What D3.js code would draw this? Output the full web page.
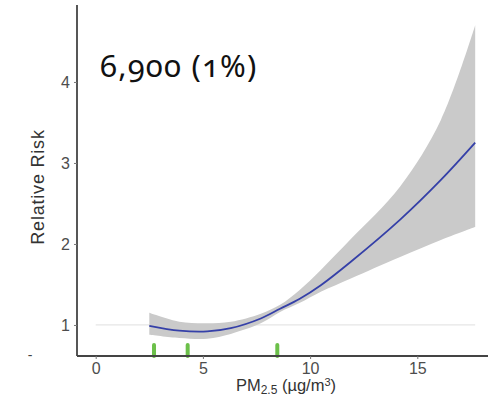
<!DOCTYPE html>
<html>
<head>
<meta charset="utf-8">
<script src="https://cdn.jsdelivr.net/npm/d3@7"></script>
<style>
  html, body { margin: 0; padding: 0; background: #fff; }
  svg { display: block; }
</style>
</head>
<body>
<svg id="chart" width="488" height="407"></svg>
<script>
// Exposure grid (PM2.5, µg/m³) and fitted relative risk with 95% band
const pm = [2.5, 3.9, 5.2, 6.3, 7.7, 8.6, 9.5, 10.5, 11.9, 14.2, 16.1, 17.7];
const rr = [0.99, 0.93, 0.92, 0.96, 1.08, 1.20, 1.32, 1.49, 1.78, 2.30, 2.79, 3.25];
const rrLower = [0.88, 0.84, 0.83, 0.89, 1.02, 1.16, 1.27, 1.41, 1.575, 1.84, 2.05, 2.21];
const rrUpper = [1.15, 1.04, 1.02, 1.04, 1.14, 1.25, 1.43, 1.68, 2.06, 2.71, 3.53, 4.70];
// Observed exposure locations shown as a rug
const rugPm = [2.72, 4.29, 8.47];
const xTicks = [0, 5, 10, 15];
const yTicks = [1, 2, 3, 4];
const refRR = 1;
const headline = "6,900 (1%)";

const svg = d3.select("#chart");
const panel = { left: 77, right: 488, top: 5, bottom: 356 };

const x = d3.scaleLinear().domain([-0.872, 18.297]).range([panel.left, panel.right]);
const y = d3.scaleLinear().domain([0.617, 4.95]).range([panel.bottom, panel.top]);

const rows = pm.map((v, i) => ({ pm: v, rr: rr[i], lo: rrLower[i], hi: rrUpper[i] }));
const smooth = d3.curveCatmullRom.alpha(0.5);

// reference line at RR = 1
svg.append("line")
  .attr("x1", x(0)).attr("x2", x(pm[pm.length - 1]))
  .attr("y1", y(refRR)).attr("y2", y(refRR))
  .attr("stroke", "#e6e6e6").attr("stroke-width", 1.2);

// confidence band
svg.append("path")
  .datum(rows)
  .attr("d", d3.area().curve(smooth)
    .x(d => x(d.pm)).y0(d => y(d.lo)).y1(d => y(d.hi)))
  .attr("fill", "#cacaca");

// fitted curve
svg.append("path")
  .datum(rows)
  .attr("d", d3.line().curve(smooth)
    .x(d => x(d.pm)).y(d => y(d.rr)))
  .attr("fill", "none").attr("stroke", "#3540a8").attr("stroke-width", 1.8);

// rug marks
svg.selectAll("line.rug").data(rugPm).join("line")
  .attr("class", "rug")
  .attr("x1", d => x(d)).attr("x2", d => x(d))
  .attr("y1", panel.bottom - 11).attr("y2", panel.bottom)
  .attr("stroke", "#6cc04a").attr("stroke-width", 4)
  .attr("stroke-linecap", "round");

// axes
const axisColor = "#444";
const tickColor = "#4d4d4d";

const xAxis = svg.append("g").attr("transform", `translate(0,${panel.bottom})`)
  .call(d3.axisBottom(x).tickValues(xTicks).tickSize(3).tickPadding(4).tickFormat(d3.format("d")));
const yAxis = svg.append("g").attr("transform", `translate(${panel.left},0)`)
  .call(d3.axisLeft(y).tickValues(yTicks).tickSize(3).tickPadding(4).tickFormat(d3.format("d")));

[xAxis, yAxis].forEach(g => {
  g.select(".domain").attr("stroke", axisColor).attr("stroke-width", 1.8);
  g.selectAll(".tick line").attr("stroke", "#777").attr("stroke-width", 1);
  g.selectAll(".tick text")
    .attr("fill", tickColor)
    .style("font-family", "'Liberation Sans', Arial, sans-serif")
    .style("font-size", "16px");
});
xAxis.select(".domain").attr("d", `M${panel.left},0H${panel.right}`);
yAxis.select(".domain").attr("d", `M0,${panel.top}V${panel.bottom}`);

// axis titles
svg.append("text")
  .attr("transform", "translate(44,187) rotate(-90)")
  .attr("text-anchor", "middle")
  .attr("fill", "#333")
  .style("font-family", "'Liberation Sans', Arial, sans-serif")
  .style("font-size", "18px")
  .style("letter-spacing", "0.8px")
  .text("Relative Risk");

const xt = svg.append("text")
  .attr("x", 286).attr("y", 391)
  .attr("text-anchor", "middle")
  .attr("fill", "#333")
  .style("font-family", "'Liberation Sans', Arial, sans-serif")
  .style("font-size", "16.5px");
xt.append("tspan").text("PM");
xt.append("tspan").attr("dy", 3).style("font-size", "12px").text("2.5");
xt.append("tspan").attr("dy", -3).text(" (µg/m");
xt.append("tspan").attr("dy", -5).style("font-size", "11px").text("3");
xt.append("tspan").attr("dy", 5).text(")");

// stray dash left of the axis origin
svg.append("text")
  .attr("x", 30).attr("y", 360)
  .attr("text-anchor", "middle")
  .attr("fill", "#444")
  .style("font-family", "'Liberation Sans', Arial, sans-serif")
  .style("font-size", "14px")
  .text("-");

// headline count
svg.append("text")
  .attr("x", 100).attr("y", 77)
  .attr("fill", "#111")
  .style("font-family", "'Noto Sans', 'Open Sans', sans-serif")
  .style("font-size", "31px")
  .style("letter-spacing", "1.2px")
  .style("font-feature-settings", "'onum' 1")
  .text(headline);
</script>
</body>
</html>
